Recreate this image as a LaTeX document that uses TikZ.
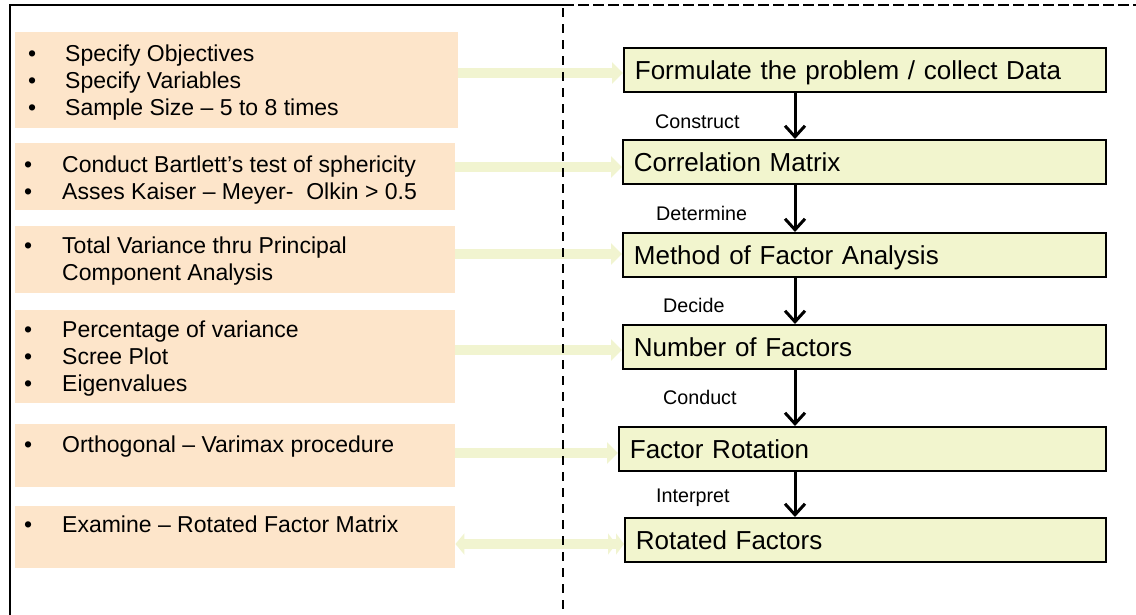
\documentclass[tikz,border=0pt]{standalone}
\usepackage{fontspec}
\setmainfont{Liberation Sans}
\newfontfamily\stepfont{Liberation Sans}[WordSpace=1.6]
\usetikzlibrary{arrows.meta}

\definecolor{peach}{RGB}{253,229,202}
\definecolor{stepfill}{RGB}{242,245,206}
\definecolor{linkfill}{RGB}{241,244,208}

\begin{document}
\begin{tikzpicture}[x=1pt,y=-1pt,
  inbox/.style={fill=peach, draw=none, anchor=north west, inner sep=0pt},
  intext/.style={anchor=base west, inner sep=0pt,
    font=\fontsize{23pt}{27pt}\selectfont},
  stepbox/.style={draw=black, line width=1.8pt, fill=stepfill,
    anchor=north west, inner xsep=11pt, inner ysep=0pt,
    minimum height=44pt, align=left, text height=18.6pt, text depth=0pt,
    font=\stepfont\fontsize{26pt}{31pt}\selectfont},
  lbl/.style={anchor=base west, inner sep=0pt,
    font=\fontsize{19.7pt}{23pt}\selectfont},
  flow/.style={line width=3pt, -{Straight Barb[length=11pt,width=20pt]}},
  fat/.style={draw=linkfill, line width=10.5pt,
    -{Triangle[length=11pt,width=21pt]}},
  fatboth/.style={draw=linkfill, line width=10.5pt,
    {Triangle[length=9pt,width=21pt]}-{Triangle[length=8pt,width=21pt]Triangle[length=8pt,width=21pt]}},
]
\useasboundingbox (0,0) rectangle (1136,614);

% input panels on the left
\node[inbox, minimum width=443pt, minimum height=96pt] (l1) at (15,32) {};
\node[inbox, minimum width=440pt, minimum height=67pt] (l2) at (15,143) {};
\node[inbox, minimum width=440pt, minimum height=67pt] (l3) at (15,226) {};
\node[inbox, minimum width=440pt, minimum height=93pt] (l4) at (15,310) {};
\node[inbox, minimum width=440pt, minimum height=63pt] (l5) at (15,424) {};
\node[inbox, minimum width=440pt, minimum height=62pt] (l6) at (15,506) {};

\node[intext] (t1) at (28,61) {\begin{tabular}[t]{@{}p{37pt}@{}l@{}}
  \textbullet & Specify Objectives\\
  \textbullet & Specify Variables\\
  \textbullet & Sample Size – 5 to 8 times\end{tabular}};
\node[intext] (t2) at (24,172) {\begin{tabular}[t]{@{}p{38pt}@{}l@{}}
  \textbullet & Conduct Bartlett’s test of sphericity\\
  \textbullet & Asses Kaiser – Meyer-\ \ Olkin > 0.5\end{tabular}};
\node[intext] (t3) at (24,253.5) {\begin{tabular}[t]{@{}p{38pt}@{}l@{}}
  \textbullet & Total Variance thru Principal\\
   & Component Analysis\end{tabular}};
\node[intext] (t4) at (24,337) {\begin{tabular}[t]{@{}p{38pt}@{}l@{}}
  \textbullet & Percentage of variance\\
  \textbullet & Scree Plot\\
  \textbullet & Eigenvalues\end{tabular}};
\node[intext] (t5) at (24,452) {\begin{tabular}[t]{@{}p{38pt}@{}l@{}}
  \textbullet & Orthogonal – Varimax procedure\end{tabular}};
\node[intext] (t6) at (24,532.5) {\begin{tabular}[t]{@{}p{38pt}@{}l@{}}
  \textbullet & Examine – Rotated Factor Matrix\end{tabular}};

% rows of the links
\coordinate (a1) at (0,73);
\coordinate (a2) at (0,167);
\coordinate (a3) at (0,254);
\coordinate (a4) at (0,350);
\coordinate (a5) at (0,453);
\coordinate (a6) at (0,544);
\coordinate (spine) at (795,0);

% process steps
\node[stepbox, text width=460pt] (f1) at (623,47)  {Formulate the problem / collect Data};
\node[stepbox, text width=461pt] (f2) at (622,139) {Correlation Matrix};
\node[stepbox, text width=461pt] (f3) at (622,232) {Method of Factor Analysis};
\node[stepbox, text width=461pt] (f4) at (622,324) {Number of Factors};
\node[stepbox, text width=465pt] (f5) at (618,426) {Factor Rotation};
\node[stepbox, text width=459pt] (f6) at (624,517) {Rotated Factors};

% links from panels to steps
\draw[fat] (l1.east |- a1) -- (f1.west |- a1);
\draw[fat] (l2.east |- a2) -- (f2.west |- a2);
\draw[fat] (l3.east |- a3) -- (f3.west |- a3);
\draw[fat] (l4.east |- a4) -- (f4.west |- a4);
\draw[fat] (l5.east |- a5) -- (f5.west |- a5);
\draw[fatboth] (l6.east |- a6) -- (f6.west |- a6);

% frame
\draw[line width=2.6pt, dash pattern=on 9pt off 7pt] (563,8) -- (563,620);
\draw[line width=2.4pt, dash pattern=on 11pt off 4pt] (563,5) -- (1140,5);
\draw[line width=2.2pt] (10,620) -- (10,5) -- (564,5);

% flow between steps
\draw[flow] (f1.south -| spine) -- (f2.north -| spine);
\draw[flow] (f2.south -| spine) -- (f3.north -| spine);
\draw[flow] (f3.south -| spine) -- (f4.north -| spine);
\draw[flow] (f4.south -| spine) -- (f5.north -| spine);
\draw[flow] (f5.south -| spine) -- (f6.north -| spine);

\node[lbl] (c1) at (655,128) {Construct};
\node[lbl] (c2) at (656,220) {Determine};
\node[lbl] (c3) at (663,312) {Decide};
\node[lbl] (c4) at (663,404) {Conduct};
\node[lbl] (c5) at (656,502) {Interpret};
\end{tikzpicture}
\end{document}
